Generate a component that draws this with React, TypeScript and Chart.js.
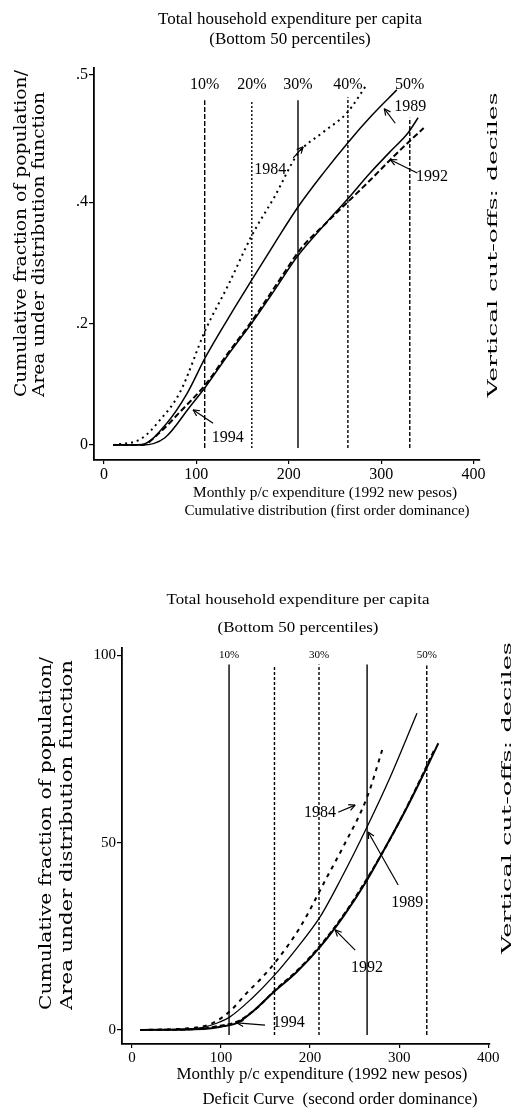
import React, { useEffect, useRef } from "react";
import { Chart, registerables } from "chart.js";

Chart.register(...registerables);

const SERIF = "'Liberation Serif', 'Times New Roman', serif";
const WIDE = "'DejaVu Serif', serif";

// ---------- shared ----------
const decileLabels = ["10%", "20%", "30%", "40%", "50%"];
const decileCutoffs = [109, 160, 210, 264, 331];
const yearNames = ["1984", "1989", "1992", "1994"];

// ---------- top panel: cumulative distribution ----------
const topXTicks = [0, 100, 200, 300, 400];
const topYTicks = [0, 0.2, 0.4, 0.61];
const topYTickLabels = ["0", ".2", ".4", ".5"];

const top1984X = [10, 40, 60, 82, 110, 135, 160, 185, 210, 237, 263, 285];
const top1984Y = [0, 0.01, 0.04, 0.086, 0.19, 0.265, 0.345, 0.41, 0.48, 0.515, 0.547, 0.595];

const top1989X = [10, 41, 68, 90, 110, 135, 160, 185, 210, 237, 264, 290, 317];
const top1989Y = [0, 0.001, 0.036, 0.085, 0.145, 0.21, 0.272, 0.333, 0.392, 0.447, 0.498, 0.543, 0.585];

const top1992X = [10, 41, 60, 82, 110, 135, 160, 187, 214, 240, 263, 288, 310, 329, 346];
const top1992Y = [0, 0, 0.02, 0.054, 0.1, 0.153, 0.204, 0.265, 0.325, 0.365, 0.399, 0.436, 0.47, 0.498, 0.522];

const top1994X = [10, 41, 66, 93, 110, 135, 160, 185, 209, 237, 263, 288, 309, 329, 340];
const top1994Y = [0, 0, 0.012, 0.063, 0.096, 0.15, 0.201, 0.256, 0.31, 0.36, 0.404, 0.448, 0.482, 0.514, 0.539];

const topDecileTop = [0.568, 0.568, 0.568, 0.573, 0.539];
const topDecileBottom = -0.005;
const topDecileLabelY = 0.593;

const topYearLabelX = [180, 331.5, 355, 134];
const topYearLabelY = [0.453, 0.557, 0.4415, 0.0115];
const topArrowFromX = [204.8, 315.3, 339.1, 118.1];
const topArrowFromY = [0.473, 0.53, 0.448, 0.036];
const topArrowToX = [215.6, 303.4, 309.9, 96.4];
const topArrowToY = [0.491, 0.554, 0.47, 0.058];

// ---------- bottom panel: deficit curve ----------
const botXTicks = [0, 100, 200, 300, 400];
const botYTicks = [0, 50, 100];
const botYTickLabels = ["0", "50", "100"];

const bot1984X = [9, 54, 76, 91, 110, 129, 146, 163, 189, 219, 237, 264, 282];
const bot1984Y = [0, 0.3, 0.8, 1.9, 5, 9.9, 14, 18.7, 27.5, 40.8, 48.8, 62.1, 75.5];

const bot1989X = [9, 60, 80, 95, 110, 134, 158, 185, 211, 234, 265, 290, 320];
const bot1989Y = [0, 0.2, 0.7, 1.8, 3.5, 8.3, 14.1, 21.8, 30.1, 40, 54.7, 67.5, 84.5];

const bot1992X = [9, 80, 100, 118, 137, 158, 185, 211, 238, 264, 281, 309, 335, 344];
const bot1992Y = [0, 0.3, 0.9, 1.9, 5.2, 9.9, 15.5, 22.1, 30.5, 40, 47.2, 59.5, 72, 76.5];

const bot1994X = [9, 75, 95, 118, 140, 160, 187, 213, 240, 265, 290, 315, 340];
const bot1994Y = [0, 0.3, 1, 2.2, 5.8, 10.5, 16.2, 23, 31.5, 40.8, 51, 62.5, 75];

const botDecileText = ["10%", "", "30%", "", "50%"];
const botDecileTop = [97.5, 97.3, 97.5, 97.5, 97.2];
const botDecileBottom = -1.3;
const botDecileLabelY = 100;

const botYearLabelX = [211.2, 309, 264, 176];
const botYearLabelY = [57.9, 33.9, 16.5, 1.8];
const botArrowFromX = [231.5, 298.9, 250.6, 149.4];
const botArrowFromY = [58.1, 38.7, 21.3, 1.3];
const botArrowToX = [250.6, 265.2, 228.1, 118];
const botArrowToY = [60, 52.8, 26.7, 1.9];

// ---------- texts ----------
const titleLine1 = "Total household expenditure per capita";
const titleLine2 = "(Bottom 50 percentiles)";
const yTitle1 = "Cumulative fraction of population/";
const yTitle2 = "Area under distribution function";
const rightTitle = "Vertical cut-offs: deciles";
const xTitle = "Monthly p/c expenditure (1992 new pesos)";
const topCaption = "Cumulative distribution (first order dominance)";
const botCaption = "Deficit Curve  (second order dominance)";

type PageText = {
  text: string;
  x: number;
  y: number;
  size: number;
  family: string;
  rot?: number;
  width?: number;
  align?: CanvasTextAlign;
};

function drawPageText(ctx: CanvasRenderingContext2D, t: PageText) {
  ctx.save();
  ctx.translate(t.x, t.y);
  if (t.rot) ctx.rotate(t.rot);
  ctx.font = `${t.size}px ${t.family}`;
  ctx.textAlign = t.align || "center";
  ctx.textBaseline = "middle";
  ctx.fillStyle = "#000";
  if (t.width) {
    const w = ctx.measureText(t.text).width;
    ctx.scale(t.width / w, 1);
  }
  ctx.fillText(t.text, 0, 0);
  ctx.restore();
}

type AnnotCfg = {
  decileText: string[];
  decileLabelY: number;
  decileFont: string;
  labelX: number[];
  labelY: number[];
  fromX: number[];
  fromY: number[];
  toX: number[];
  toY: number[];
  yearFont: string;
  texts: PageText[];
};

function makeAnnotPlugin(cfg: AnnotCfg) {
  return {
    id: "annot",
    afterDatasetsDraw(chart: any) {
      const { ctx } = chart;
      const xs = chart.scales.x;
      const ys = chart.scales.y;
      ctx.save();
      ctx.fillStyle = "#000";
      ctx.strokeStyle = "#000";
      ctx.textAlign = "center";
      ctx.textBaseline = "middle";
      ctx.font = cfg.decileFont;
      cfg.decileText.forEach((t, i) => {
        if (!t) return;
        ctx.fillText(t, xs.getPixelForValue(decileCutoffs[i]), ys.getPixelForValue(cfg.decileLabelY));
      });
      ctx.font = cfg.yearFont;
      yearNames.forEach((t, i) => {
        ctx.fillText(t, xs.getPixelForValue(cfg.labelX[i]), ys.getPixelForValue(cfg.labelY[i]));
        const x1 = xs.getPixelForValue(cfg.fromX[i]);
        const y1 = ys.getPixelForValue(cfg.fromY[i]);
        const x2 = xs.getPixelForValue(cfg.toX[i]);
        const y2 = ys.getPixelForValue(cfg.toY[i]);
        ctx.lineWidth = 1.2;
        ctx.beginPath();
        ctx.moveTo(x1, y1);
        ctx.lineTo(x2, y2);
        ctx.stroke();
        const ang = Math.atan2(y2 - y1, x2 - x1);
        const L = 7;
        ctx.beginPath();
        ctx.moveTo(x2, y2);
        ctx.lineTo(x2 - L * Math.cos(ang - 0.45), y2 - L * Math.sin(ang - 0.45));
        ctx.moveTo(x2, y2);
        ctx.lineTo(x2 - L * Math.cos(ang + 0.45), y2 - L * Math.sin(ang + 0.45));
        ctx.stroke();
      });
      ctx.restore();
    },
    afterDraw(chart: any) {
      cfg.texts.forEach((t) => drawPageText(chart.ctx, t));
    },
  };
}

function curve(xs: number[], ys: number[]) {
  return xs.map((x, i) => ({ x, y: ys[i] }));
}

function curveDs(xs: number[], ys: number[], width: number, dash: number[]) {
  return {
    data: curve(xs, ys),
    borderColor: "#000",
    borderWidth: width,
    borderDash: dash,
    pointRadius: 0,
    tension: 0.4,
    cubicInterpolationMode: "monotone" as const,
    fill: false,
  };
}

function decileDs(tops: number[], bottom: number, dashes: number[][]) {
  return decileCutoffs.map((c, i) => ({
    data: [
      { x: c, y: bottom },
      { x: c, y: tops[i] },
    ],
    borderColor: "#000",
    borderWidth: 1.4,
    borderDash: dashes[i],
    pointRadius: 0,
    tension: 0,
    fill: false,
  }));
}

function buildConfig(p: {
  datasets: any[];
  xMin: number;
  xMax: number;
  yMin: number;
  yMax: number;
  xTicks: number[];
  yTicks: number[];
  yTickLabels: string[];
  xTickFont: number;
  yTickFont: number;
  yAxisWidth: number;
  xAxisHeight: number;
  padTop: number;
  padRight: number;
  annot: AnnotCfg;
}): any {
  return {
    type: "line",
    data: { datasets: p.datasets },
    plugins: [makeAnnotPlugin(p.annot)],
    options: {
      responsive: false,
      animation: false,
      events: [],
      layout: { padding: { left: 0, top: p.padTop, right: p.padRight, bottom: 0 } },
      plugins: { legend: { display: false }, tooltip: { enabled: false }, title: { display: false } },
      scales: {
        x: {
          type: "linear",
          min: p.xMin,
          max: p.xMax,
          afterBuildTicks: (s: any) => {
            s.ticks = p.xTicks.map((v) => ({ value: v }));
          },
          afterFit: (s: any) => {
            s.height = p.xAxisHeight;
          },
          ticks: {
            color: "#000",
            font: { family: SERIF, size: p.xTickFont },
            padding: 1,
            maxRotation: 0,
            autoSkip: false,
            callback: (v: any) => String(v),
          },
          grid: { drawOnChartArea: false, drawTicks: true, tickLength: 4, color: "#000", lineWidth: 1.2 },
          border: { display: true, color: "#000", width: 1.8 },
        },
        y: {
          type: "linear",
          min: p.yMin,
          max: p.yMax,
          afterBuildTicks: (s: any) => {
            s.ticks = p.yTicks.map((v) => ({ value: v }));
          },
          afterFit: (s: any) => {
            s.width = p.yAxisWidth;
          },
          ticks: {
            color: "#000",
            font: { family: SERIF, size: p.yTickFont },
            padding: 1,
            autoSkip: false,
            callback: (_v: any, i: number) => p.yTickLabels[i],
          },
          grid: { drawOnChartArea: false, drawTicks: true, tickLength: 5, color: "#000", lineWidth: 1.2 },
          border: { display: true, color: "#000", width: 1.8 },
        },
      },
    },
  };
}

function topConfig() {
  const datasets = [
    ...decileDs(topDecileTop, topDecileBottom, [[5, 2], [2, 2], [], [3, 2], [4, 2]]),
    curveDs(top1984X, top1984Y, 2, [2, 4]),
    curveDs(top1989X, top1989Y, 1.5, []),
    curveDs(top1992X, top1992Y, 2, [6, 3]),
    curveDs(top1994X, top1994Y, 1.5, []),
  ];
  const texts: PageText[] = [
    { text: titleLine1, x: 290, y: 20, size: 17, family: SERIF },
    { text: titleLine2, x: 290, y: 40, size: 17, family: SERIF },
    { text: yTitle1, x: 22, y: 397, size: 16, family: WIDE, rot: -Math.PI / 2, align: "left", width: 327 },
    { text: yTitle2, x: 40, y: 397, size: 16, family: WIDE, rot: -Math.PI / 2, align: "left", width: 305 },
    { text: rightTitle, x: 494, y: 245, size: 13, family: WIDE, rot: -Math.PI / 2, width: 305 },
    { text: xTitle, x: 325, y: 493, size: 15, family: SERIF, width: 264 },
    { text: topCaption, x: 327, y: 511, size: 14, family: SERIF, width: 285 },
  ];
  return buildConfig({
    datasets,
    xMin: -10.8,
    xMax: 407,
    yMin: -0.0247,
    yMax: 0.621,
    xTicks: topXTicks,
    yTicks: topYTicks,
    yTickLabels: topYTickLabels,
    xTickFont: 16,
    yTickFont: 16,
    yAxisWidth: 94,
    xAxisHeight: 80,
    padTop: 68,
    padRight: 41,
    annot: {
      decileText: decileLabels,
      decileLabelY: topDecileLabelY,
      decileFont: `16px ${SERIF}`,
      labelX: topYearLabelX,
      labelY: topYearLabelY,
      fromX: topArrowFromX,
      fromY: topArrowFromY,
      toX: topArrowToX,
      toY: topArrowToY,
      yearFont: `16px ${SERIF}`,
      texts,
    },
  });
}

function botConfig() {
  const datasets = [
    ...decileDs(botDecileTop, botDecileBottom, [[], [3, 2], [3, 2], [], [4, 2]]),
    curveDs(bot1984X, bot1984Y, 2, [4, 5]),
    curveDs(bot1989X, bot1989Y, 1.3, []),
    curveDs(bot1992X, bot1992Y, 2, []),
    curveDs(bot1994X, bot1994Y, 2, [5, 3]),
  ];
  const texts: PageText[] = [
    { text: titleLine1, x: 298, y: 60, size: 15, family: SERIF, width: 263 },
    { text: titleLine2, x: 298, y: 88, size: 15, family: SERIF, width: 161 },
    { text: yTitle1, x: 47, y: 470, size: 16, family: WIDE, rot: -Math.PI / 2, align: "left", width: 353 },
    { text: yTitle2, x: 68, y: 470, size: 16, family: WIDE, rot: -Math.PI / 2, align: "left", width: 350 },
    { text: rightTitle, x: 508, y: 258, size: 13, family: WIDE, rot: -Math.PI / 2, width: 312 },
    { text: xTitle, x: 322, y: 535, size: 16, family: SERIF, width: 291 },
    { text: botCaption, x: 340, y: 560, size: 16, family: SERIF, width: 275 },
  ];
  return buildConfig({
    datasets,
    xMin: -11.2,
    xMax: 402,
    yMin: -3.73,
    yMax: 101.9,
    xTicks: botXTicks,
    yTicks: botYTicks,
    yTickLabels: botYTickLabels,
    xTickFont: 15,
    yTickFont: 15,
    yAxisWidth: 122,
    xAxisHeight: 70,
    padTop: 108,
    padRight: 31,
    annot: {
      decileText: botDecileText,
      decileLabelY: botDecileLabelY,
      decileFont: `11px ${SERIF}`,
      labelX: botYearLabelX,
      labelY: botYearLabelY,
      fromX: botArrowFromX,
      fromY: botArrowFromY,
      toX: botArrowToX,
      toY: botArrowToY,
      yearFont: `16px ${SERIF}`,
      texts,
    },
  });
}

export default function App() {
  const topRef = useRef<HTMLCanvasElement>(null);
  const botRef = useRef<HTMLCanvasElement>(null);
  useEffect(() => {
    const c1 = new Chart(topRef.current as HTMLCanvasElement, topConfig());
    const c2 = new Chart(botRef.current as HTMLCanvasElement, botConfig());
    return () => {
      c1.destroy();
      c2.destroy();
    };
  }, []);
  return (
    <div style={{ position: "absolute", left: 0, top: 0, width: 521, height: 1114, background: "#fff" }}>
      <canvas ref={topRef} width={521} height={540} style={{ position: "absolute", left: 0, top: 0 }} />
      <canvas ref={botRef} width={521} height={574} style={{ position: "absolute", left: 0, top: 540 }} />
    </div>
  );
}
